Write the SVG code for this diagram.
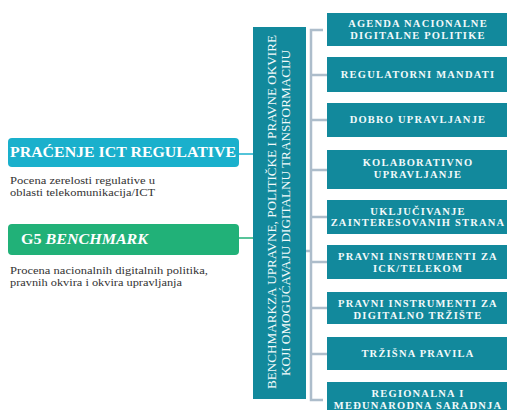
<svg xmlns="http://www.w3.org/2000/svg" width="507" height="410" viewBox="0 0 507 410">
<style>
text{font-family:"Liberation Serif","Times New Roman","DejaVu Serif",serif}
.box{fill:#12899c}
.bt{font-weight:bold;font-size:10.5px;fill:#f2fafb;text-anchor:middle;letter-spacing:1.2px}
.sub{font-size:11px;fill:#333}
.br{stroke:#adbdcb;stroke-width:2.5;fill:none}
.vt{font-size:13px;fill:#f2fafb;text-anchor:middle}
.hd{font-weight:bold;font-size:15px;fill:#fff}
</style>
<rect width="507" height="410" fill="#fff"/>
<g id="connectors">
<line x1="239" y1="154" x2="253" y2="154" stroke="#1ab0cc" stroke-width="1.5"/>
<line x1="239" y1="238" x2="253" y2="238" stroke="#21b178" stroke-width="1.5"/>
<path class="br" d="M323 30H311V400H323"/>
<path class="br" d="M311 75H327M311 120H327M311 170H327M311 217H327M311 262H327M311 308H327M311 354H327M311 251H306"/>
</g>
<g id="pracenje">
<rect x="8" y="138" width="231" height="29" rx="4" fill="#1ab0cc"/>
<text class="hd" x="10" y="157" textLength="226" lengthAdjust="spacingAndGlyphs">PRAĆENJE ICT REGULATIVE</text>
<text class="sub" x="10" y="183.5" textLength="145" lengthAdjust="spacingAndGlyphs">Pocena zerelosti regulative u</text>
<text class="sub" x="10" y="196" textLength="145" lengthAdjust="spacingAndGlyphs">oblasti telekomunikacija/ICT</text>
</g>
<g id="g5">
<rect x="8" y="224" width="231" height="31" rx="4" fill="#21b178"/>
<text class="hd" x="21" y="244" textLength="127" lengthAdjust="spacingAndGlyphs">G5 <tspan font-style="italic">BENCHMARK</tspan></text>
<text class="sub" x="10" y="273.5" textLength="198" lengthAdjust="spacingAndGlyphs">Procena nacionalnih digitalnih politika,</text>
<text class="sub" x="10" y="286" textLength="172" lengthAdjust="spacingAndGlyphs">pravnih okvira i okvira upravljanja</text>
</g>
<g id="benchmark">
<rect class="box" x="253" y="27" width="53" height="372"/>
<text class="vt" transform="translate(276,212) rotate(-90)" textLength="354" lengthAdjust="spacingAndGlyphs">BENCHMARKZA UPRAVNE, POLITIČKE I PRAVNE OKVIRE</text>
<text class="vt" transform="translate(290,213) rotate(-90)" textLength="326" lengthAdjust="spacingAndGlyphs">KOJI OMOGUĆAVAJU DIGITALNU TRANSFORMACIJU</text>
</g>
<g id="n1"><rect class="box" x="327" y="13" width="182" height="33"/><text class="bt" x="418" y="27">AGENDA NACIONALNE</text><text class="bt" x="418" y="38.5">DIGITALNE POLITIKE</text></g>
<g id="n2"><rect class="box" x="327" y="57" width="182" height="35"/><text class="bt" x="418" y="78">REGULATORNI MANDATI</text></g>
<g id="n3"><rect class="box" x="327" y="103" width="182" height="34"/><text class="bt" x="418" y="123">DOBRO UPRAVLJANJE</text></g>
<g id="n4"><rect class="box" x="327" y="150" width="182" height="39"/><text class="bt" x="418" y="166">KOLABORATIVNO</text><text class="bt" x="418" y="177.5">UPRAVLJANJE</text></g>
<g id="n5"><rect class="box" x="327" y="200" width="182" height="34"/><text class="bt" x="418" y="214.5">UKLJUČIVANJE</text><text class="bt" x="418" y="226">ZAINTERESOVANIH STRANA</text></g>
<g id="n6"><rect class="box" x="327" y="245" width="182" height="34"/><text class="bt" x="418" y="260">PRAVNI INSTRUMENTI ZA</text><text class="bt" x="418" y="272">ICK/TELEKOM</text></g>
<g id="n7"><rect class="box" x="327" y="292" width="182" height="32"/><text class="bt" x="418" y="307">PRAVNI INSTRUMENTI ZA</text><text class="bt" x="418" y="319">DIGITALNO TRŽIŠTE</text></g>
<g id="n8"><rect class="box" x="327" y="337" width="182" height="33"/><text class="bt" x="418" y="357">TRŽIŠNA PRAVILA</text></g>
<g id="n9"><rect class="box" x="327" y="382" width="182" height="36"/><text class="bt" x="418" y="397">REGIONALNA I</text><text class="bt" x="418" y="409">MEĐUNARODNA SARADNJA</text></g>
</svg>
